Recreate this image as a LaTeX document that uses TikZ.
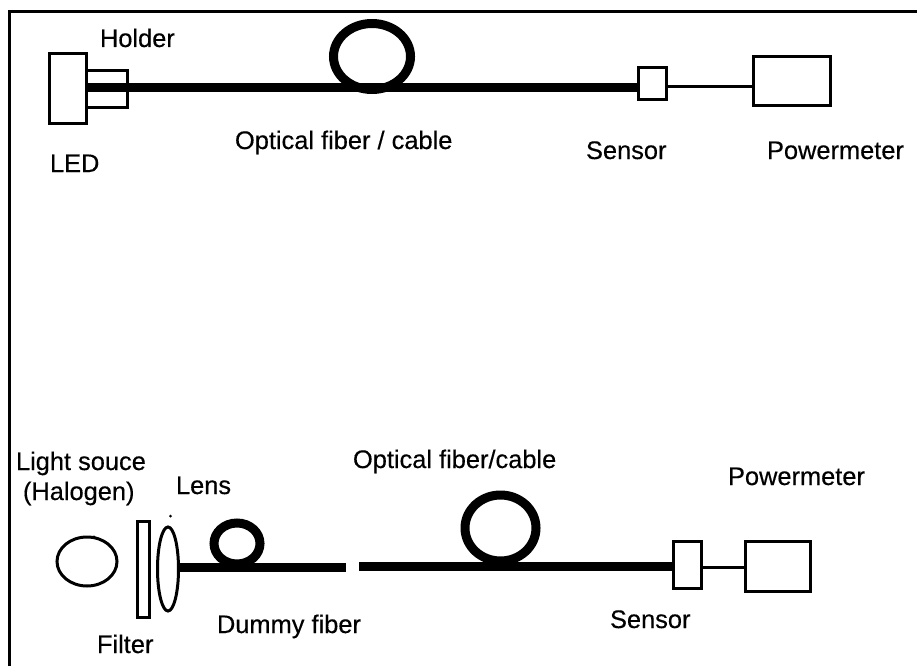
\documentclass[tikz,border=0pt]{standalone}
\usepackage{fontspec}
\setmainfont[FakeBold=0.35]{Liberation Sans}
\usetikzlibrary{shapes.geometric}
\begin{document}
\begin{tikzpicture}[x=1pt,y=-1pt,
  lab/.style={anchor=base west,inner sep=0pt,outer sep=0pt,font=\fontsize{25.4}{30}\selectfont,text=black},
  box/.style={draw=black,line width=3pt,fill=white,inner sep=0pt,outer sep=0pt},
  oval/.style={ellipse,draw=black,line width=3pt,inner sep=0pt,outer sep=0pt},
  coil/.style={ellipse,draw=black,line width=9pt,inner sep=0pt,outer sep=0pt},
  fiber/.style={draw=black,line width=9pt},
  wire/.style={draw=black,line width=3pt},
  speck/.style={circle,fill=black,minimum size=3.5pt,inner sep=0pt}]
\useasboundingbox (0,0) rectangle (917,666);
\fill[white] (0,0) rectangle (917,666);
% frame
\coordinate (fa) at (9.5,666);
\coordinate (fb) at (9.5,12);
\coordinate (fc) at (917,12);
\draw[line width=3pt,miter limit=10] (fa) -- (fb) -- (fc);

% top set-up
\node[box,minimum width=37pt,minimum height=70pt] (led) at (67.5,88.5) {};
\node[box,minimum width=41pt,minimum height=37pt] (holder) at (106.5,89) {};
\node[coil,minimum width=77pt,minimum height=66pt] (coilA) at (372,56.5) {};
\node[box,minimum width=28pt,minimum height=32pt] (sensorA) at (652,84) {};
\node[box,minimum width=77pt,minimum height=49pt] (meterA) at (791.5,81.5) {};
\coordinate (fiberAs) at (led.east |- 0,88);
\coordinate (fiberAe) at (sensorA.west |- 0,88);
\coordinate (wireAs) at (sensorA.east |- 0,87);
\coordinate (wireAe) at (meterA.west |- 0,87);
\draw[fiber] (fiberAs) -- (fiberAe);
\draw[wire] (wireAs) -- (wireAe);

\node[lab] (tHolder) at (100,47) {Holder};
\node[lab] (tLED) at (50,172) {LED};
\node[lab] (tFibA) at (235,149) {Optical fiber / cable};
\node[lab] (tSensA) at (586,159) {Sensor};
\node[lab] (tMetA) at (767,159) {Powermeter};

% bottom set-up
\node[oval,minimum width=60pt,minimum height=49pt] (lamp) at (87,561.5) {};
\node[speck] (lampdot) at (94,537) {};
\node[box,minimum width=12pt,minimum height=96pt] (filter) at (143,569) {};
\node[oval,minimum width=21pt,minimum height=84pt] (lens) at (168,569) {};
\node[speck,minimum size=3pt] (lensdot) at (170.5,516) {};
\node[coil,minimum width=46pt,minimum height=41pt] (coilB) at (237,543.5) {};
\node[coil,minimum width=71pt,minimum height=66pt] (coilC) at (500.5,528) {};
\node[box,minimum width=28pt,minimum height=47pt] (sensorB) at (687,564.5) {};
\node[box,minimum width=65pt,minimum height=50pt] (meterB) at (777.5,566) {};
\coordinate (dummyEnd) at (346,567);
\coordinate (fiberCs) at (359,566.5);
\coordinate (dummyStart) at (lens.east |- dummyEnd);
\coordinate (fiberCe) at (sensorB.west |- fiberCs);
\coordinate (wireBs) at (sensorB.east |- 0,567);
\coordinate (wireBe) at (meterB.west |- 0,567);
\draw[fiber] (dummyStart) -- (dummyEnd);
\draw[fiber] (fiberCs) -- (fiberCe);
\draw[wire] (wireBs) -- (wireBe);

\node[lab] (tLight) at (16,470) {Light souce};
\node[lab] (tHal) at (23,500) {(Halogen)};
\node[lab] (tLens) at (176,494) {Lens};
\node[lab] (tFibC) at (353,468) {Optical fiber/cable};
\node[lab] (tMetB) at (728,485) {Powermeter};
\node[lab] (tSensB) at (610,628) {Sensor};
\node[lab] (tDummy) at (217,633) {Dummy fiber};
\node[lab] (tFilter) at (97,653) {Filter};
\end{tikzpicture}
\end{document}
